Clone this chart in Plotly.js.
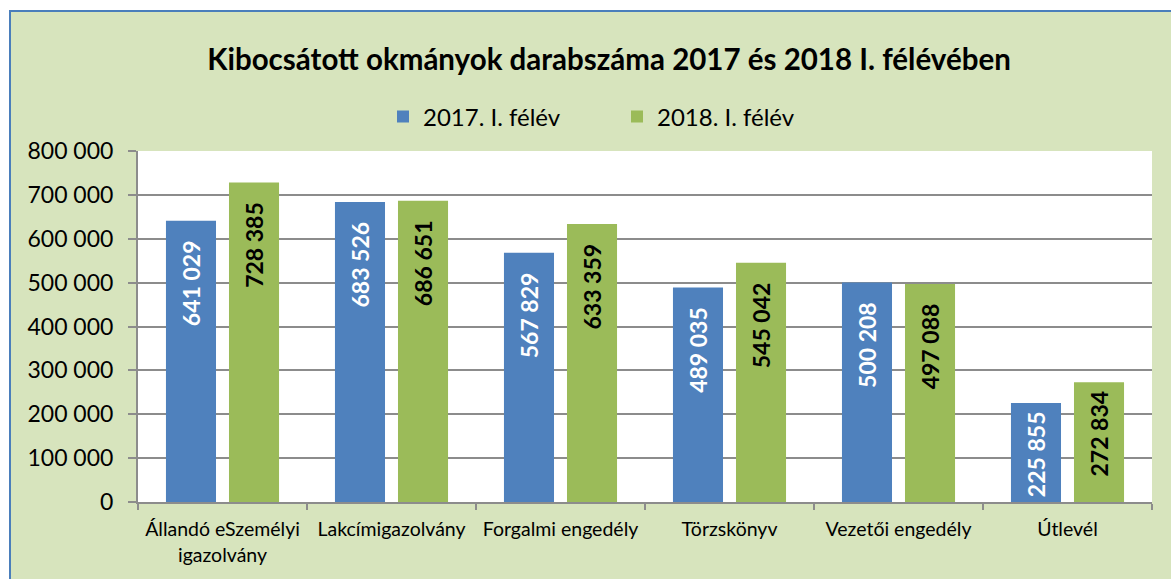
<!DOCTYPE html>
<html>
<head>
<meta charset="utf-8">
<script src="https://cdn.plot.ly/plotly-3.0.1.min.js"></script>
<style>
  html, body { margin: 0; padding: 0; background: #ffffff; width: 1171px; height: 579px; overflow: hidden; }
  #frame { position: absolute; left: 9px; top: 10px; width: 1162px; height: 569px; border-left: 2px solid #4a7ebb; border-top: 2px solid #4a7ebb; background: #d7e4bd; }
  #chart { width: 1160px; height: 567px; }
</style>
</head>
<body>
<div id="frame"><div id="chart"></div></div>
<script>
const categories = ["Állandó eSzemélyi<br>igazolvány", "Lakcímigazolvány", "Forgalmi engedély", "Törzskönyv", "Vezetői engedély", "Útlevél"];
const series2017 = [641029, 683526, 567829, 489035, 500208, 225855];
const series2018 = [728385, 686651, 633359, 545042, 497088, 272834];
const seriesNames = ["2017. I. félév", "2018. I. félév"];
const yTickVals = [0, 100000, 200000, 300000, 400000, 500000, 600000, 700000, 800000];

const FONT = "Lato, 'Open Sans', sans-serif";
// label padding from the bar end: smaller on short bars so the label stays inside
const labelTemplates = vals => vals.map(v => "%{y:,.0f}" + (v > 300000 ? "\u00a0\u00a0\u00a0" : "\u00a0"));

const traces = [
  {
    type: "bar", name: seriesNames[0], x: categories, y: series2017,
    marker: { color: "#4f81bd" },
    texttemplate: labelTemplates(series2017), textposition: "inside", insidetextanchor: "end",
    textangle: -90, constraintext: "none",
    insidetextfont: { family: FONT, size: 23, color: "#ffffff", weight: "bold" },
    hoverinfo: "skip"
  },
  {
    type: "bar", name: seriesNames[1], x: categories, y: series2018,
    marker: { color: "#9bbb59" },
    texttemplate: labelTemplates(series2018), textposition: "inside", insidetextanchor: "end",
    textangle: -90, constraintext: "none",
    insidetextfont: { family: FONT, size: 23, color: "#000000", weight: "bold" },
    hoverinfo: "skip"
  }
];

const layout = {
  width: 1160, height: 567,
  paper_bgcolor: "#d7e4bd", plot_bgcolor: "#ffffff",
  separators: ", ",
  font: { family: FONT, size: 19, color: "#000000" },
  margin: { l: 127, r: 19, t: 139, b: 77, pad: 0 },
  title: {
    text: "Kibocsátott okmányok darabszáma 2017 és 2018 I. félévében",
    font: { family: FONT, size: 29.5, color: "#000000", weight: "bold" },
    x: (609 - 11) / 1160, xanchor: "center", xref: "container",
    y: 1 - 48/567, yanchor: "middle", yref: "container"
  },
  showlegend: true,
  legend: {
    orientation: "h", x: (617 - 11) / 1160, xanchor: "center", xref: "container",
    y: 1 - 105/567, yanchor: "middle", yref: "container",
    font: { family: FONT, size: 24, color: "#000000" },
    bgcolor: "rgba(0,0,0,0)", itemwidth: 30, tracegroupgap: 0,
    entrywidth: 189
  },
  bargap: 0.254, bargroupgap: 0.206,
  xaxis: {
    type: "category", showgrid: false, showline: true, linecolor: "#8c8c8c", linewidth: 2,
    ticks: "outside", tickson: "boundaries", ticklen: 6, tickcolor: "#8c8c8c", tickwidth: 2,
    tickfont: { family: FONT, size: 19.5, color: "#000000" },
    ticklabelstandoff: 9,
    fixedrange: true
  },
  yaxis: {
    range: [0, 800000], tickvals: yTickVals, tickformat: ",.0f",
    showgrid: true, gridcolor: "#8c8c8c", gridwidth: 2,
    showline: true, linecolor: "#8c8c8c", linewidth: 2,
    ticks: "outside", ticklen: 8, tickcolor: "#8c8c8c", tickwidth: 2,
    tickfont: { family: FONT, size: 23, color: "#000000" },
    ticklabelstandoff: 10,
    zeroline: false, fixedrange: true
  }
};

Plotly.newPlot("chart", traces, layout, { displayModeBar: false, staticPlot: true });
</script>
</body>
</html>
